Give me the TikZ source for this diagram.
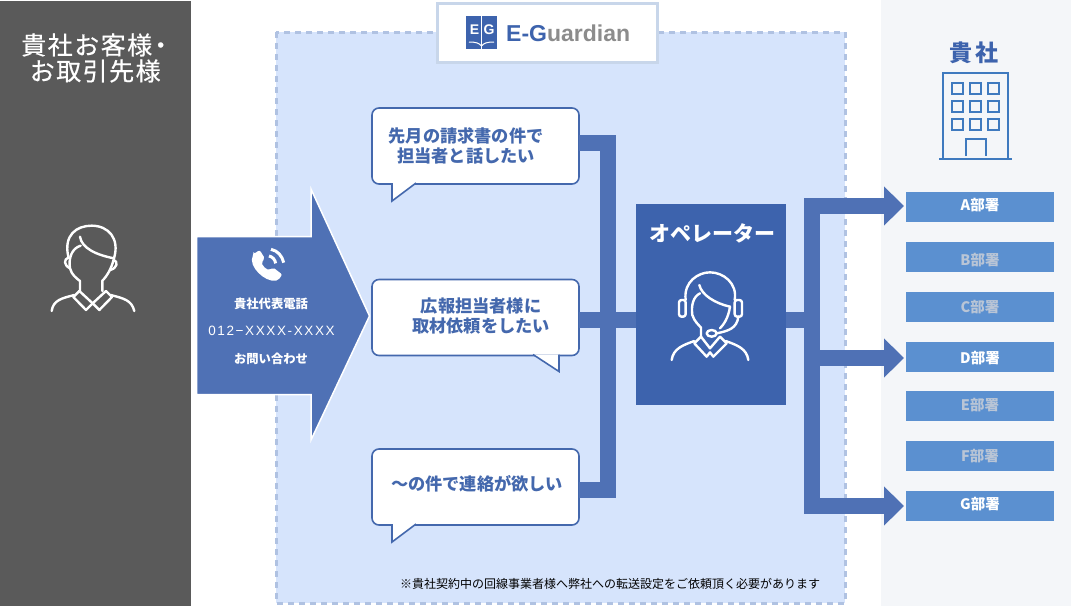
\documentclass[tikz,border=0pt]{standalone}
\usepackage{fontspec}
\setmainfont{Noto Sans CJK JP}
\newfontfamily\logofont{Liberation Sans}
\usepackage{tikz}
\usetikzlibrary{arrows.meta,positioning}
\usepackage{xcolor}
\definecolor{egdark}{RGB}{90,90,90}
\definecolor{egpanel}{RGB}{214,228,252}
\definecolor{egdash}{RGB}{176,194,226}
\definecolor{egframe}{RGB}{200,214,234}
\definecolor{egside}{RGB}{244,246,249}
\definecolor{egflow}{RGB}{79,113,181}
\definecolor{egoper}{RGB}{61,99,173}
\definecolor{egedge}{RGB}{68,104,173}
\definecolor{egdept}{RGB}{91,144,208}
\definecolor{egmute}{RGB}{185,197,214}
\definecolor{eggrey}{RGB}{140,140,140}
\definecolor{egbuild}{RGB}{63,122,191}
\newcommand{\deptline}[2]{\raisebox{#1}[10pt][2pt]{#2}}

\begin{document}
\begin{tikzpicture}[
    x=1pt, y=-1pt,
    bubble/.style={rectangle, draw=egedge, line width=1.6pt, fill=white,
        minimum width=207pt, minimum height=76pt, rounded corners=7pt,
        inner sep=0pt, outer sep=0pt},
    bubbletxt/.style={font=\bfseries\fontsize{17.2}{20}\selectfont, text=egedge,
        align=center, inner sep=0pt},
    tail/.style={draw=egedge, line width=1.6pt, fill=white, line join=miter},
    dept/.style={rectangle, fill=egdept, minimum width=148pt, minimum height=30pt,
        inner sep=0pt, outer sep=0pt, text=egmute,
        font=\bfseries\fontsize{14.5}{15}\selectfont},
    deptnow/.style={dept, text=white},
    flow/.style={draw=egflow, line width=16pt, line join=miter},
    flowtip/.style={flow, -{Triangle[length=20pt,width=38pt]}, shorten >=2pt},
    calltxt/.style={font=\bfseries\fontsize{12.3}{14}\selectfont, text=white, inner sep=0pt},
    titletxt/.style={font=\fontsize{25}{26}\selectfont\addfontfeature{LetterSpace=6,FakeBold=0.5},
        text=white, inner sep=0pt, anchor=west},
    icon/.style={draw=white, line width=2.4pt, line cap=round, line join=round}
]
    \useasboundingbox (0,0) rectangle (1071,606);
    \fill[white] (0,0) rectangle (1071,606);

    \fill[egdark] (0,1) rectangle (191,606);
    \fill[egside] (881,0) rectangle (1071,606);
    \draw[fill=egpanel, draw=egdash, line width=3pt, dash pattern=on 6pt off 5pt]
        (276,32) rectangle (845,603);

    \node[rectangle, draw=egframe, line width=3pt, fill=white, minimum width=220pt,
        minimum height=59pt, inner sep=0pt] (logobox) at (547,32.5) {};
    \fill[egoper] (466,16) rectangle (497,49);
    \draw[white, line width=1pt] (481.5,16) -- (481.5,49);
    \draw[white, line width=1pt] (469,42) .. controls (476,42) and (479,43) .. (481.5,46)
        .. controls (484,43) and (487,42) .. (494,42);
    \node[font=\logofont\bfseries\fontsize{14}{15}\selectfont, text=white, inner sep=0pt] (logoe) at (474.5,30) {E};
    \node[font=\logofont\bfseries\fontsize{14}{15}\selectfont, text=white, inner sep=0pt] (logog) at (489,30) {G};
    \node[font=\logofont\bfseries\fontsize{23}{24}\selectfont, inner sep=0pt, anchor=west] (logoname) at (506,33)
        {\textcolor{egoper}{E-G}\textcolor{eggrey}{uardian}};

    \node[titletxt] (clienttitle) at (21,45) {貴社お客様\kern-4pt ・};
    \node[titletxt] (clientname) at (29.5,71) {お取引先様};
    \node[font=\bfseries\fontsize{23}{25}\selectfont, text=egoper, inner sep=0pt] (ourtitle) at (974,53)
        {貴\,社};

    \begin{scope}[xshift=40pt, yshift=-215pt, x=0.3333pt, y=-0.3333pt]
        \draw[icon] (85,125) .. controls (70,60) and (110,32) .. (155,32)
            .. controls (205,32) and (240,70) .. (222,130);
        \draw[icon] (120,65) .. controls (125,100) and (170,120) .. (222,130);
        \draw[icon] (122,92) .. controls (95,100) and (85,130) .. (90,160)
            .. controls (95,180) and (110,190) .. (120,198) -- (120,228);
        \draw[icon] (222,130) .. controls (215,160) and (200,185) .. (187,197) -- (187,228);
        \draw[icon] (85,128) .. controls (72,132) and (70,150) .. (90,160);
        \draw[icon] (222,135) .. controls (235,140) and (232,160) .. (210,165);
        \draw[icon] (35,288) .. controls (40,255) and (65,250) .. (103,240);
        \draw[icon] (283,288) .. controls (275,255) and (250,250) .. (212,240);
        \draw[icon] (118,228) -- (100,246) -- (138,285) -- (158,265) -- (178,285) -- (216,246) -- (198,228);
        \draw[icon] (118,228) -- (158,265) -- (198,228);
    \end{scope}

    \draw[fill=egflow, draw=white, line width=1.5pt]
        (196.5,236.5) -- (311,236.5) -- (311,189) -- (369.5,316) -- (311,440) -- (311,394.5) -- (196.5,394.5) -- cycle;
    \begin{scope}[xshift=245pt, yshift=-242pt, x=0.3333pt, y=-0.3333pt]
        \fill[white, rounded corners=2pt] (26,36) -- (44,24) -- (60,50) -- (49,61)
            .. controls (54,73) and (62,80) .. (73,85) -- (84,76) -- (112,98) -- (99,115)
            .. controls (60,122) and (8,72) .. (26,36) -- cycle;
        \draw[white, line width=3pt] (72,42) .. controls (82,44) and (90,52) .. (92,64);
        \draw[white, line width=3pt] (78,22) .. controls (98,26) and (112,42) .. (116,62);
    \end{scope}
    \node[calltxt] (calltop) at (271,304) {貴社代表電話};
    \node[font=\logofont\fontsize{13.5}{14}\selectfont\addfontfeature{LetterSpace=12}, text=white, inner sep=0pt] (callnum) at (271.5,331) {012−XXXX-XXXX};
    \node[calltxt] (callend) at (271,359) {お問い合わせ};

    \node[bubble] (askbill) at (475.5,146) {};
    \node[bubble] (askpress) at (475.5,317.5) {};
    \node[bubble] (askother) at (475.5,487) {};
    \draw[tail] ([xshift=20pt,yshift=1pt]askbill.south west) -- ++(0,18) -- ++(24,-18);
    \draw[tail] ([xshift=161pt,yshift=1pt]askpress.south west) -- ++(26,17) -- ++(0,-17);
    \draw[tail] ([xshift=20pt,yshift=1pt]askother.south west) -- ++(0,18) -- ++(24,-18);
    \node[bubbletxt] (billtxt) at (466,146) {先月の請求書の件で\\担当者と話したい};
    \node[bubbletxt] (presstxt) at (481,316) {広報担当者様に\\取材依頼をしたい};
    \node[bubbletxt] (othertxt) at (477,484) {〜の件で連絡が欲しい};

    \node[rectangle, fill=egoper, minimum width=150pt, minimum height=201pt,
        inner sep=0pt, outer sep=0pt] (operator) at (711,304.5) {};
    \node[font=\bfseries\fontsize{21}{22}\selectfont, text=white, inner sep=0pt] (opertxt) at (712,233) {オペレーター};
    \begin{scope}[xshift=665pt, yshift=-265pt, x=0.3333pt, y=-0.3333pt]
        \draw[icon] (62,105) .. controls (55,50) and (100,22) .. (135,22)
            .. controls (175,22) and (218,55) .. (209,105);
        \draw[icon] (103,60) .. controls (110,90) and (150,115) .. (195,125);
        \draw[icon] (105,85) .. controls (85,95) and (78,120) .. (82,150)
            .. controls (88,170) and (102,180) .. (108,188) -- (108,215);
        \draw[icon] (195,125) .. controls (190,160) and (175,180) .. (165,190);
        \draw[icon, rounded corners=2.5pt] (62,105) rectangle (42,155);
        \draw[icon, rounded corners=2.5pt] (209,105) rectangle (231,155);
        \draw[icon] (220,155) .. controls (216,190) and (190,198) .. (155,205);
        \draw[icon] (140,205) ellipse [x radius=15, y radius=10];
        \draw[icon] (20,285) .. controls (25,250) and (55,240) .. (88,228);
        \draw[icon] (250,285) .. controls (245,250) and (215,240) .. (182,228);
        \draw[icon] (108,215) -- (88,235) -- (125,275) -- (135,262) -- (145,275) -- (185,235) -- (165,215);
        \draw[icon] (108,215) -- (135,250) -- (165,215);
    \end{scope}

    \node[dept, deptnow] (depta) at (980,207) {\deptline{1pt}{A部署}};
    \node[dept] (deptb) at (980,257) {\deptline{-4pt}{B部署}};
    \node[dept] (deptc) at (980,307) {\deptline{-1pt}{C部署}};
    \node[dept, deptnow] (deptd) at (980,356.5) {\deptline{-2.5pt}{D部署}};
    \node[dept] (depte) at (980,406) {\deptline{0pt}{E部署}};
    \node[dept] (deptf) at (980,456) {\deptline{-1pt}{F部署}};
    \node[dept, deptnow] (deptg) at (980,506) {\deptline{1pt}{G部署}};

    \coordinate (busin) at (608,320);
    \coordinate (busout) at (812,320);
    \draw[flow] ([yshift=3pt]askbill.east) -| (busin);
    \draw[flow] ([yshift=-3pt]askother.east) -| (busin);
    \draw[flow] ([yshift=-2.5pt]askpress.east) -- (operator.west |- busin);
    \draw[flow] (operator.east |- busout) -- (busout);
    \draw[flowtip] (busout) |- ([yshift=1pt]depta.west);
    \draw[flowtip] (busout) |- ([yshift=-1.5pt]deptd.west);
    \draw[flowtip] (busout) |- (deptg.west);

    \draw[egbuild, line width=2.4pt] (943,159) -- (943,73) -- (1008,73) -- (1008,159);
    \draw[egbuild, line width=2.4pt] (939,159) -- (1012,159);
    \draw[egbuild, line width=2.4pt] (966,156) -- (966,139) -- (986,139) -- (986,156);
    \draw[egbuild, line width=2.4pt] (952,83) rectangle (963,94) (970,83) rectangle (981,94) (988,83) rectangle (999,94);
    \draw[egbuild, line width=2.4pt] (952,101) rectangle (963,112) (970,101) rectangle (981,112) (988,101) rectangle (999,112);
    \draw[egbuild, line width=2.4pt] (952,119) rectangle (963,130) (970,119) rectangle (981,130) (988,119) rectangle (999,130);

    \node[font=\fontsize{12}{14}\selectfont, text=black, inner sep=0pt] (footnote) at (610,584)
        {※貴社契約中の回線事業者様へ弊社への転送設定をご依頼頂く必要があります};
\end{tikzpicture}
\end{document}
